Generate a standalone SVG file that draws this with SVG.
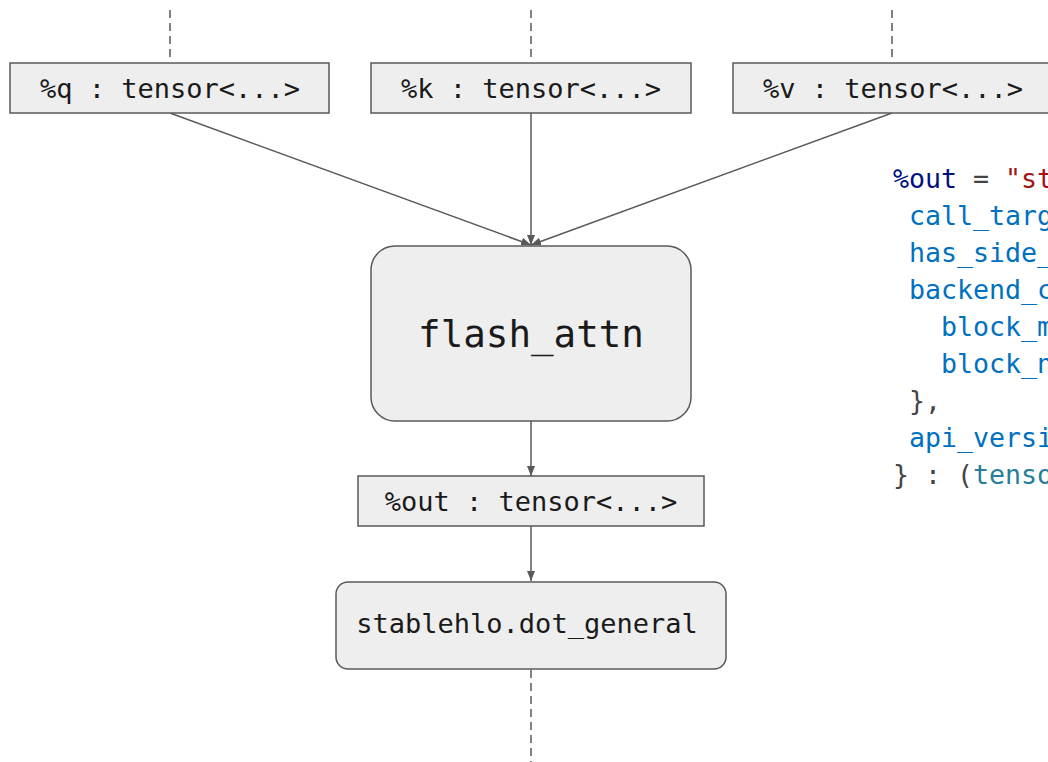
<svg xmlns="http://www.w3.org/2000/svg" width="1048" height="762" viewBox="0 0 1048 762">
<style>
.box{fill:#eeeeee;stroke:#595959;stroke-width:1.5}
.lbl{font-family:"DejaVu Sans Mono","Liberation Mono",monospace;font-size:27px;fill:#1a1a1a;text-anchor:middle}
.big{font-size:37.5px}
.edge{stroke:#595959;stroke-width:1.5;fill:none}
.dash{stroke:#595959;stroke-width:1.5;fill:none;stroke-dasharray:8 5}
.code{font-family:"DejaVu Sans Mono","Liberation Mono",monospace;font-size:26.6px;white-space:pre}
.var{fill:#001080}.op{fill:#444444}.str{fill:#a31515}.attr{fill:#0070c1}.typ{fill:#267f99}
</style>
<defs>
<marker id="arr" viewBox="0 0 10 8" refX="10" refY="4" markerWidth="10" markerHeight="8" markerUnits="userSpaceOnUse" orient="auto">
<path d="M0,0 L10,4 L0,8 z" fill="#595959"/>
</marker>
</defs>
<g id="connectors">
<line class="dash" x1="170" y1="10" x2="170" y2="62"/>
<line class="dash" x1="531" y1="10" x2="531" y2="62"/>
<line class="dash" x1="892" y1="10" x2="892" y2="62"/>
<line class="edge" x1="170" y1="113" x2="531" y2="245" marker-end="url(#arr)"/>
<line class="edge" x1="531" y1="113" x2="531" y2="245" marker-end="url(#arr)"/>
<line class="edge" x1="892" y1="113" x2="531" y2="245" marker-end="url(#arr)"/>
<line class="edge" x1="531" y1="421" x2="531" y2="476" marker-end="url(#arr)"/>
<line class="edge" x1="531" y1="526" x2="531" y2="581" marker-end="url(#arr)"/>
<line class="dash" x1="531" y1="670" x2="531" y2="762"/>
</g>
<g id="node-q">
<rect class="box" x="10" y="63" width="319" height="50"/>
<text class="lbl" x="170" y="98">%q : tensor&lt;...&gt;</text>
</g>
<g id="node-k">
<rect class="box" x="371" y="63" width="320" height="50"/>
<text class="lbl" x="531" y="98">%k : tensor&lt;...&gt;</text>
</g>
<g id="node-v">
<rect class="box" x="733" y="63" width="320" height="50"/>
<text class="lbl" x="893" y="98">%v : tensor&lt;...&gt;</text>
</g>
<g id="node-flash">
<rect class="box" x="371" y="246" width="320" height="175" rx="24"/>
<text class="lbl big" x="531" y="347">flash_attn</text>
</g>
<g id="node-out">
<rect class="box" x="358" y="476" width="346" height="50"/>
<text class="lbl" x="531" y="511">%out : tensor&lt;...&gt;</text>
</g>
<g id="node-dot">
<rect class="box" x="336" y="582" width="390" height="87" rx="12"/>
<text class="lbl" x="527" y="633">stablehlo.dot_general</text>
</g>
<g id="code">
<text class="code" x="893" y="188"><tspan class="var">%out</tspan><tspan class="op"> = </tspan><tspan class="str">"st</tspan></text>
<text class="code attr" x="893" y="225"> call_targ</text>
<text class="code attr" x="893" y="262"> has_side_</text>
<text class="code attr" x="893" y="299"> backend_c</text>
<text class="code attr" x="893" y="336">   block_m</text>
<text class="code attr" x="893" y="373">   block_n</text>
<text class="code op" x="893" y="410"> },</text>
<text class="code attr" x="893" y="447"> api_versi</text>
<text class="code" x="893" y="484"><tspan class="op">} : (</tspan><tspan class="typ">tenso</tspan></text>
</g>
</svg>
